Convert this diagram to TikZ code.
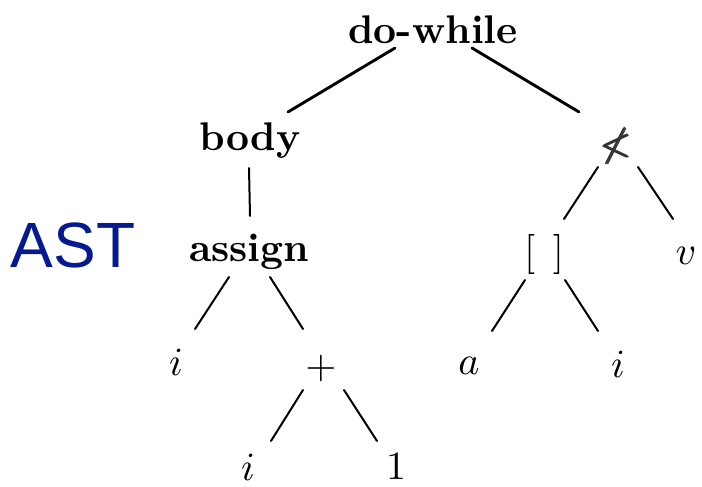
\documentclass[tikz,border=0pt]{standalone}
\usepackage{amssymb}
\usepackage{amsmath}
\usepackage{graphicx}
\usepackage{fontspec}
\newfontfamily\astfont{Liberation Sans}
\usetikzlibrary{calc}
\definecolor{astblue}{RGB}{5,25,145}
\newcommand\Lbl[1]{\scalebox{4.0}{#1}}
\tikzset{
  lab/.style={inner sep=0pt, outer sep=0pt, anchor=center},
  thickedge/.style={line width=2.9pt, line cap=round},
  thinedge/.style={line width=2pt, line cap=round},
}
\begin{document}
\begin{tikzpicture}[x=1pt,y=-1pt]
\useasboundingbox (0,0) rectangle (702,487);
\node[lab] (dw) at (433,30) {\Lbl{\bfseries do-while}};
\node[lab] (body) at (250,141) {\Lbl{\bfseries body}};
\node[lab, text=black!80] (nl) at (617,146) {\Lbl{$\pmb{\nless}$}};
\node[lab] (assign) at (249,252) {\Lbl{\bfseries assign}};
\node[lab] (br) at (544,254) {\Lbl{$[\;\,]$}};
\node[lab] (v) at (686,256) {\Lbl{$v$}};
\node[lab] (i1) at (176,362) {\Lbl{$i$}};
\node[lab] (plus) at (321,368) {\Lbl{$+$}};
\node[lab] (a) at (469,366) {\Lbl{$a$}};
\node[lab] (i2) at (618,364) {\Lbl{$i$}};
\node[lab] (i3) at (248,467) {\Lbl{$i$}};
\node[lab] (one) at (396,467) {\Lbl{$1$}};
\node[lab, text=astblue] (ast) at (73,245) {\astfont\fontsize{64}{70}\selectfont AST};

\draw[thickedge] ($(dw)+(-38,18)$) -- ($(body)+(38,-29)$);
\draw[thickedge] ($(dw)+(39,18)$) -- ($(nl)+(-38,-34)$);
\draw[thinedge] ($(body)+(-1,27)$) -- ($(assign)+(1,-36)$);
\draw[thinedge] ($(assign)+(-20,25)$) -- ($(i1)+(19,-33)$);
\draw[thinedge] ($(assign)+(21,25)$) -- ($(plus)+(-18,-39)$);
\draw[thinedge] ($(nl)+(-19,21)$) -- ($(br)+(20,-35)$);
\draw[thinedge] ($(nl)+(21,21)$) -- ($(v)+(-13,-37)$);
\draw[thinedge] ($(br)+(-19,26)$) -- ($(a)+(23,-35)$);
\draw[thinedge] ($(br)+(21,26)$) -- ($(i2)+(-20,-33)$);
\draw[thinedge] ($(plus)+(-18,22)$) -- ($(i3)+(23,-26)$);
\draw[thinedge] ($(plus)+(23,22)$) -- ($(one)+(-19,-26)$);
\end{tikzpicture}
\end{document}
